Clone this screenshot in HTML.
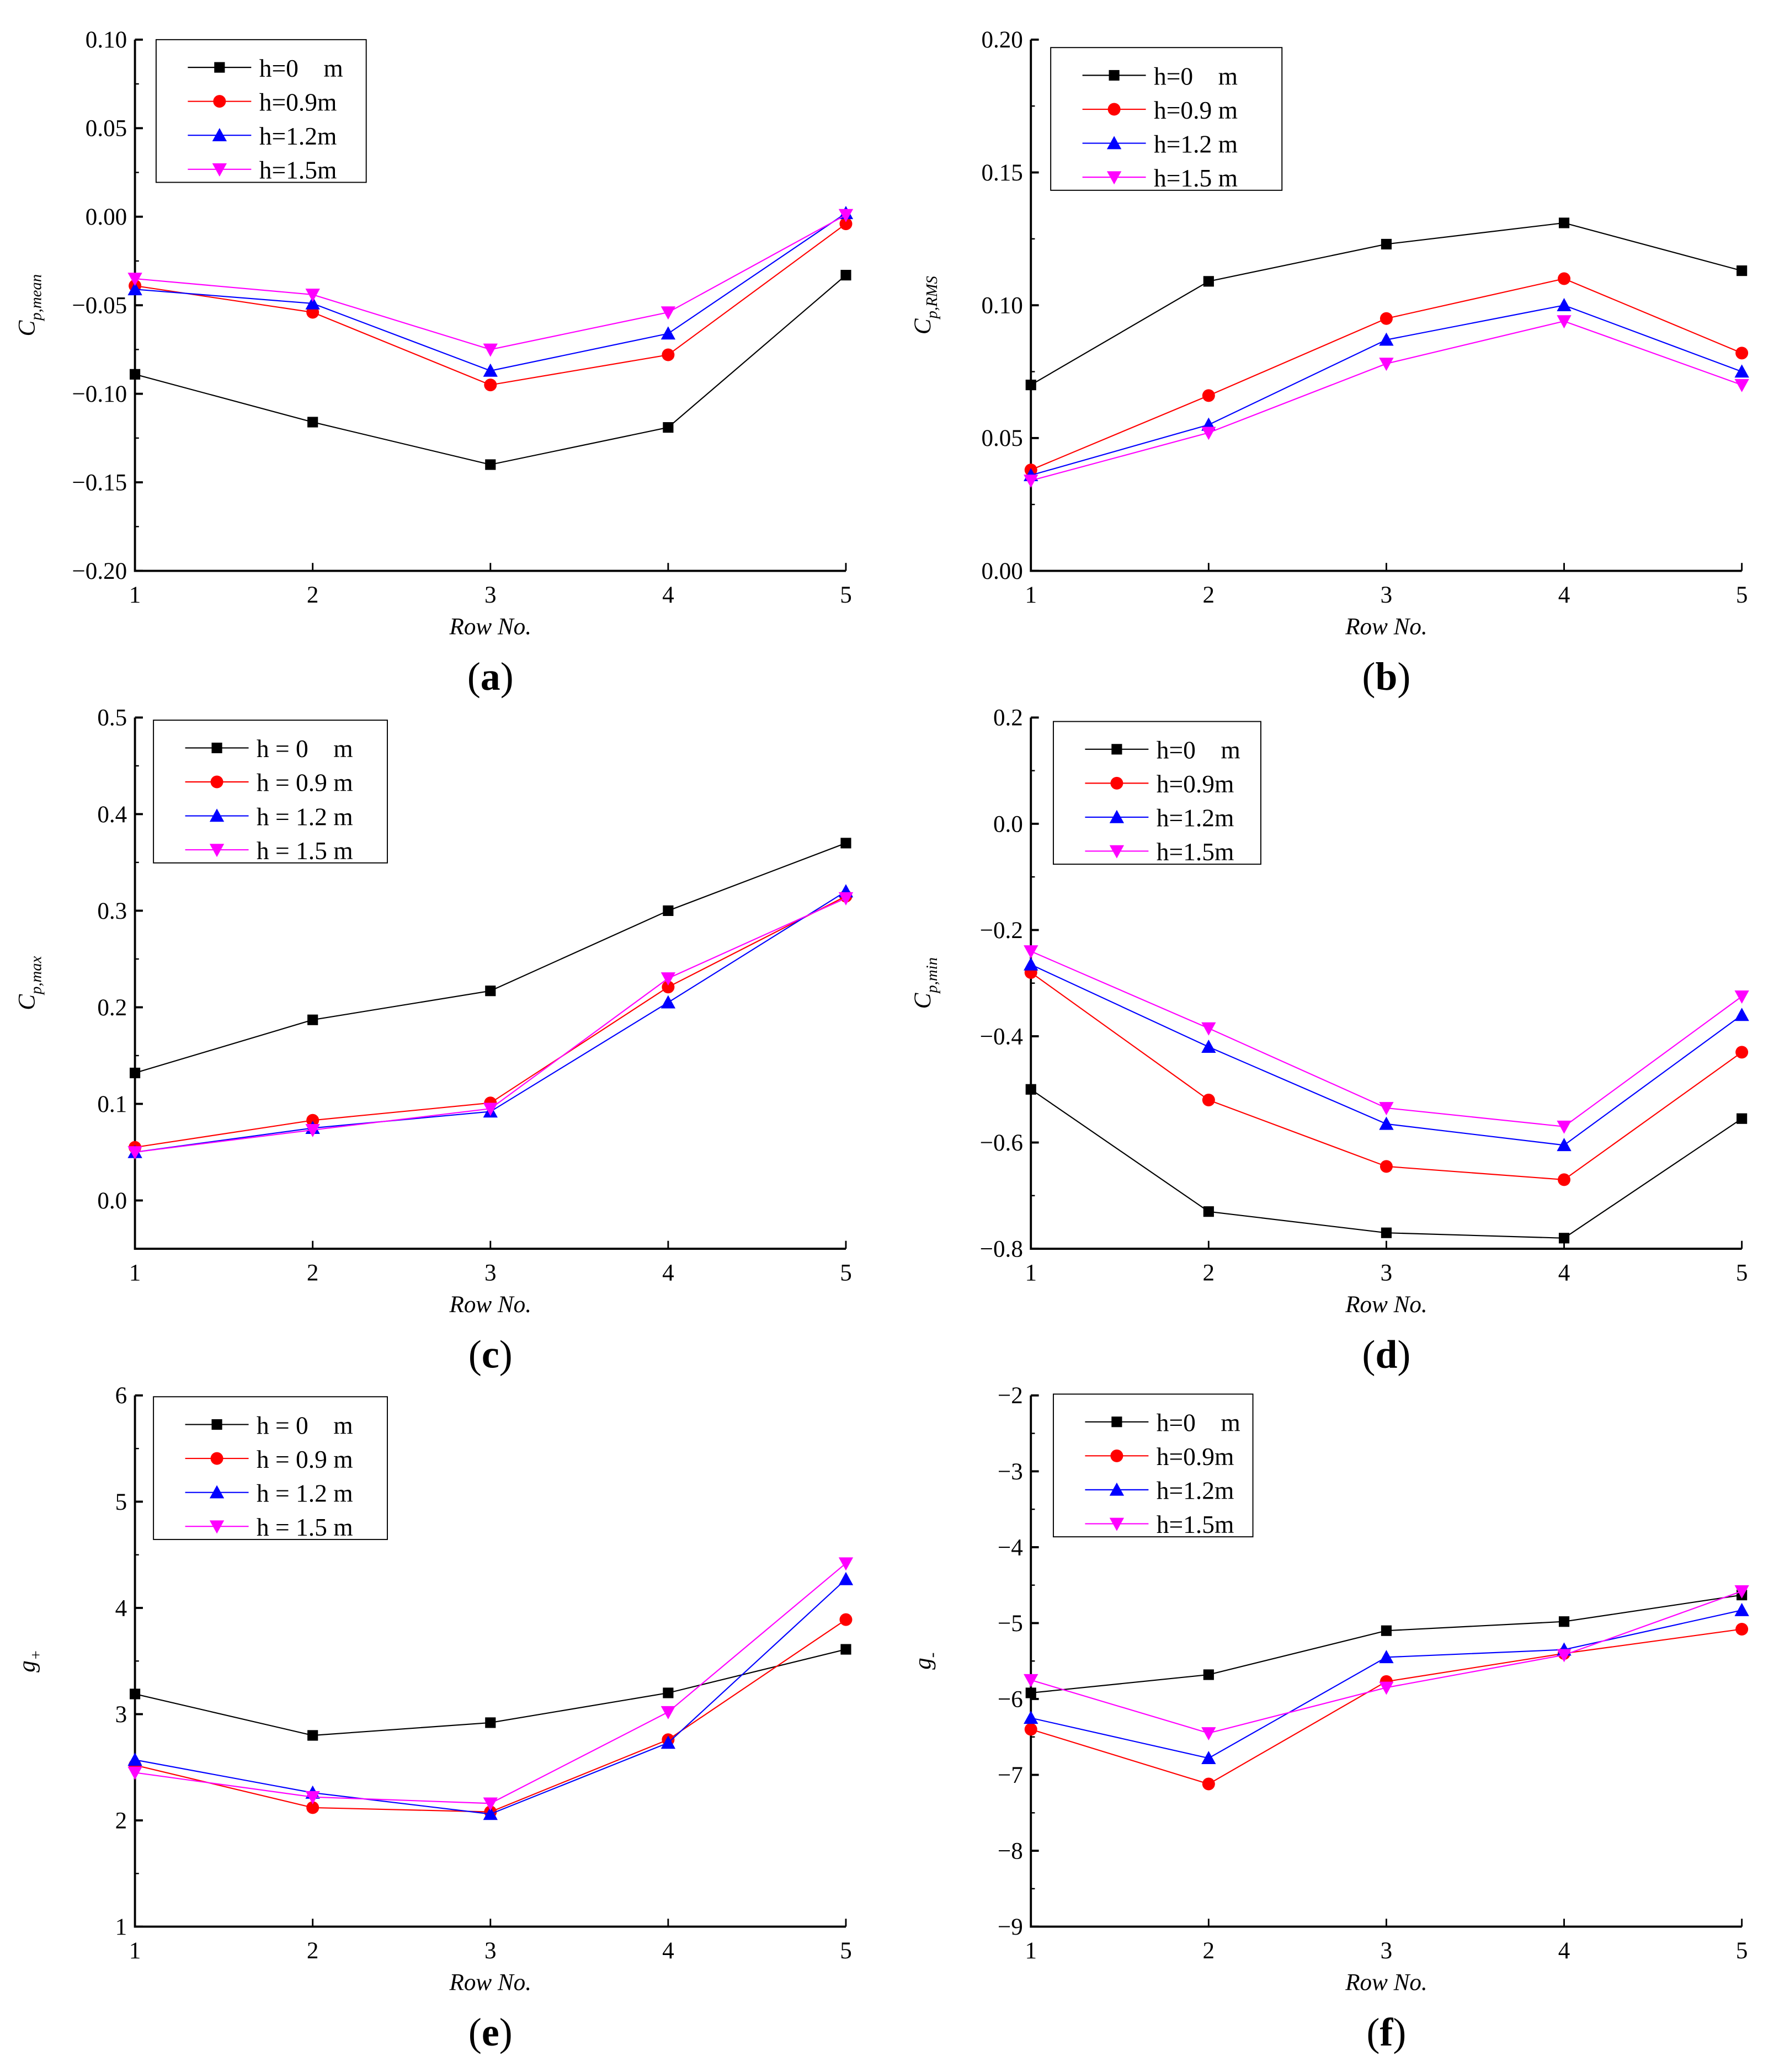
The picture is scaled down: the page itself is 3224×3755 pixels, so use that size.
<!DOCTYPE html>
<html><head><meta charset="utf-8"><style>
html,body{margin:0;padding:0;background:#fff;}
svg{display:block;}
text{font-family:"Liberation Serif",serif;fill:#000;white-space:pre;}
</style></head>
<body>
<svg id="fig" width="3224" height="3755" viewBox="0 0 1346 1568" xmlns="http://www.w3.org/2000/svg"></svg>
<script>
const rows = [1,2,3,4,5];
const colors = ['#000000','#ff0000','#0000ff','#ff00ff'];
const markers = ['square','circle','up','down'];
const legendA = ['h=0    m','h=0.9m','h=1.2m','h=1.5m'];
const legendB = ['h=0    m','h=0.9 m','h=1.2 m','h=1.5 m'];
const legendC = ['h = 0    m','h = 0.9 m','h = 1.2 m','h = 1.5 m'];

const aBlack = [-0.089,-0.116,-0.140,-0.119,-0.033];
const aRed = [-0.039,-0.054,-0.095,-0.078,-0.004];
const aBlue = [-0.041,-0.049,-0.087,-0.066,0.002];
const aMag = [-0.035,-0.044,-0.075,-0.054,0.001];
const aTicks = [0.10,0.05,0.00,-0.05,-0.10,-0.15,-0.20];

const bBlack = [0.070,0.109,0.123,0.131,0.113];
const bRed = [0.038,0.066,0.095,0.110,0.082];
const bBlue = [0.036,0.055,0.087,0.100,0.075];
const bMag = [0.034,0.052,0.078,0.094,0.070];
const bTicks = [0.00,0.05,0.10,0.15,0.20];

const cBlack = [0.132,0.187,0.217,0.300,0.370];
const cRed = [0.055,0.083,0.101,0.221,0.315];
const cBlue = [0.050,0.075,0.092,0.205,0.320];
const cMag = [0.050,0.073,0.095,0.230,0.313];
const cTicks = [0.0,0.1,0.2,0.3,0.4,0.5];

const dBlack = [-0.50,-0.73,-0.77,-0.78,-0.555];
const dRed = [-0.28,-0.52,-0.645,-0.67,-0.43];
const dBlue = [-0.265,-0.42,-0.565,-0.605,-0.36];
const dMag = [-0.24,-0.385,-0.535,-0.57,-0.325];
const dTicks = [0.2,0.0,-0.2,-0.4,-0.6,-0.8];

const eBlack = [3.19,2.80,2.92,3.20,3.61];
const eRed = [2.52,2.12,2.08,2.76,3.89];
const eBlue = [2.57,2.26,2.06,2.73,4.27];
const eMag = [2.45,2.22,2.16,3.02,4.42];
const eTicks = [1,2,3,4,5,6];

const fBlack = [-5.92,-5.68,-5.10,-4.98,-4.63];
const fRed = [-6.40,-7.12,-5.77,-5.40,-5.08];
const fBlue = [-6.25,-6.78,-5.45,-5.35,-4.83];
const fMag = [-5.75,-6.45,-5.85,-5.42,-4.58];
const fTicks = [-2,-3,-4,-5,-6,-7,-8,-9];

const NS='http://www.w3.org/2000/svg';
const svg=document.getElementById('fig');
function mk(tag,attrs,parent){const e=document.createElementNS(NS,tag);for(const k in attrs)e.setAttribute(k,attrs[k]);(parent||svg).appendChild(e);return e;}
function fmt(v,d){let s=Math.abs(v).toFixed(d);return (v<0?'\u2212':'')+s;}

function marker(g,type,x,y,c){
  let m;
  if(type==='square') m=mk('rect',{x:x-4,y:y-4,width:8,height:8,fill:c},g);
  else if(type==='circle') m=mk('circle',{cx:x,cy:y,r:4.8,fill:c},g);
  else if(type==='up') m=mk('polygon',{points:`${x-5.5},${y+4.5} ${x+5.5},${y+4.5} ${x},${y-5.5}`,fill:c},g);
  else m=mk('polygon',{points:`${x-5.5},${y-4.5} ${x+5.5},${y-4.5} ${x},${y+5.5}`,fill:c},g);
  
  
}

function panel(o){
  const g=mk('g',{});
  
  
  const x0=o.x0,x1=o.x0+538,yT=o.yTop,yB=o.yTop+402;
  const sx=v=>x0+(v-1)/4*(x1-x0);
  const sy=v=>yB-(v-o.min)/(o.max-o.min)*(yB-yT);
  const ax=mk('path',{d:`M${x0},${yT} V${yB} H${x1}`,stroke:'#000','stroke-width':1.6,fill:'none'},g);
  
  
  o.ticks.forEach((t,i)=>{
    const y=sy(t);
    mk('line',{x1:x0,x2:x0+6,y1:y,y2:y,stroke:'#000','stroke-width':1.6},g);
    if(i<o.ticks.length-1){const ym=sy((t+o.ticks[i+1])/2);mk('line',{x1:x0,x2:x0+3,y1:ym,y2:ym,stroke:'#000','stroke-width':1},g);}
    const tx=mk('text',{x:x0-6,y:y+6,'text-anchor':'end','font-size':18},g);
    tx.textContent=fmt(t,o.dec);
    
    
  });
  rows.forEach(r=>{
    const x=sx(r);
    mk('line',{x1:x,x2:x,y1:yB,y2:yB-6,stroke:'#000','stroke-width':1.2},g);
    const tx=mk('text',{x:x,y:yB+24,'text-anchor':'middle','font-size':18},g);
    tx.textContent=r;
    
    
  });
  const xt=mk('text',{x:(x0+x1)/2,y:yB+48,'text-anchor':'middle','font-size':18,'font-style':'italic'},g);
  xt.textContent='Row No.';
  
  
  const yt=mk('text',{transform:`translate(${x0-76},${(yT+yB)/2}) rotate(-90)`,'text-anchor':'middle','font-size':18,'font-style':'italic'},g);
  yt.innerHTML=o.ylab;
  
  
  const pl=mk('text',{x:(x0+x1)/2,y:yB+90,'text-anchor':'middle','font-size':30},g);
  pl.innerHTML='(<tspan font-weight="bold">'+o.id+'</tspan>)';
  
  
  o.series.forEach((s,i)=>{
    const pts=s.map((v,j)=>sx(rows[j])+','+sy(v)).join(' ');
    const l=mk('polyline',{points:pts,fill:'none',stroke:colors[i],'stroke-width':0.9},g);
    
    
    s.forEach((v,j)=>marker(g,markers[i],sx(rows[j]),sy(v),colors[i]));
  });
  const L=o.leg;
  const lg=mk('g',{},g);
  
  
  mk('rect',{x:L.x,y:L.y,width:L.w,height:108,fill:'#fff',stroke:'#000','stroke-width':0.8},lg);
  o.labels.forEach((lab,i)=>{
    const y=L.y+21+i*25.7;
    mk('line',{x1:L.x+24,x2:L.x+72,y1:y,y2:y,stroke:colors[i],'stroke-width':0.9},lg);
    marker(lg,markers[i],L.x+48,y,colors[i]);
    const t=mk('text',{x:L.x+78,y:y+7,'font-size':19},lg);
    t.textContent=lab;
    
    
  });
}
const sub=s=>'C<tspan font-size="12" dy="5">'+s+'</tspan>';
panel({id:'a',x0:102,yTop:30,min:-0.20,max:0.10,ticks:aTicks,dec:2,ylab:sub('p,mean'),series:[aBlack,aRed,aBlue,aMag],labels:legendA,leg:{x:118,y:30,w:159}});
panel({id:'b',x0:780,yTop:30,min:0,max:0.20,ticks:bTicks,dec:2,ylab:sub('p,RMS'),series:[bBlack,bRed,bBlue,bMag],labels:legendB,leg:{x:795,y:36,w:175}});
panel({id:'c',x0:102,yTop:543,min:-0.05,max:0.5,ticks:cTicks,dec:1,ylab:sub('p,max'),series:[cBlack,cRed,cBlue,cMag],labels:legendC,leg:{x:116,y:545,w:177}});
panel({id:'d',x0:780,yTop:543,min:-0.8,max:0.2,ticks:dTicks,dec:1,ylab:sub('p,min'),series:[dBlack,dRed,dBlue,dMag],labels:legendA,leg:{x:797,y:546,w:157}});
panel({id:'e',x0:102,yTop:1056,min:1,max:6,ticks:eTicks,dec:0,ylab:'g<tspan font-size="12" dy="5">+</tspan>',series:[eBlack,eRed,eBlue,eMag],labels:legendC,leg:{x:116,y:1057,w:177}});
panel({id:'f',x0:780,yTop:1056,min:-9,max:-2,ticks:fTicks,dec:0,ylab:'g<tspan font-size="12" dy="5">-</tspan>',series:[fBlack,fRed,fBlue,fMag],labels:legendA,leg:{x:797,y:1055,w:151}});
</script>
</body></html>
